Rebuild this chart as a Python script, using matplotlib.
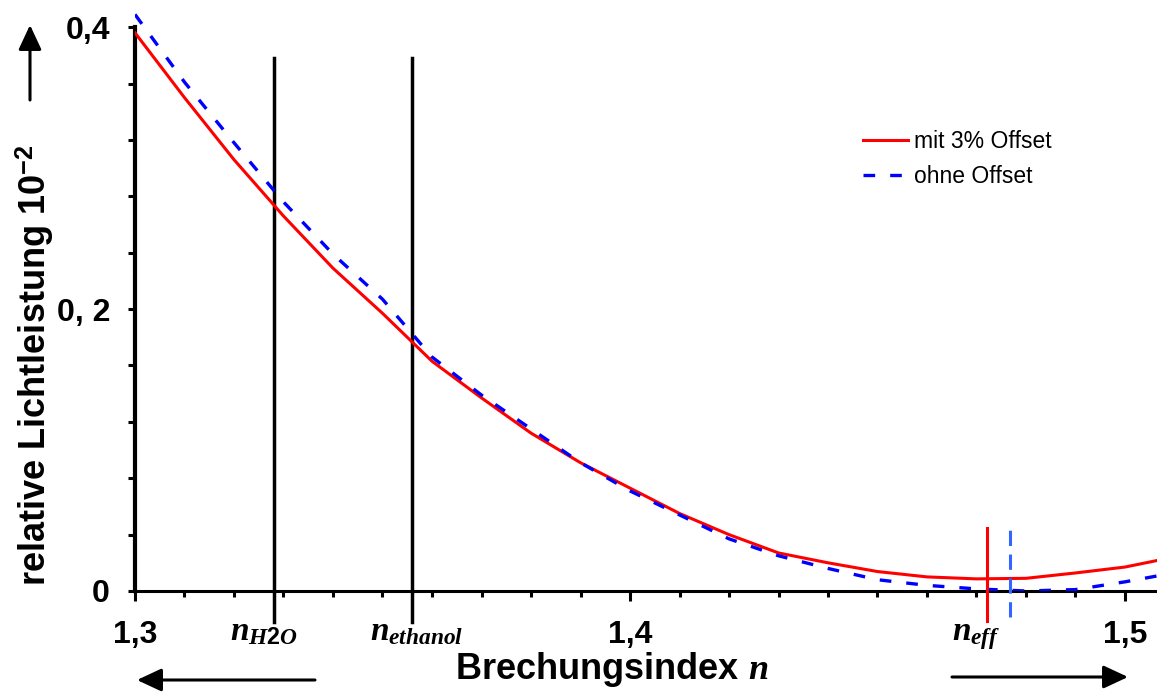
import numpy as np
import matplotlib.pyplot as plt
from matplotlib.ticker import FixedLocator, MultipleLocator

plt.rcParams['font.family'] = 'Liberation Sans'
plt.rcParams['mathtext.fontset'] = 'custom'
plt.rcParams['mathtext.it'] = 'Liberation Serif:italic:bold'
plt.rcParams['mathtext.rm'] = 'Liberation Sans:bold'
plt.rcParams['mathtext.bf'] = 'Liberation Sans:bold'

# Brechungsindex und relative Lichtleistung (in 10^-2)
n = [1.30, 1.31, 1.32, 1.33, 1.34, 1.35, 1.36, 1.37, 1.38, 1.39, 1.40,
     1.41, 1.42, 1.43, 1.44, 1.45, 1.46, 1.47, 1.48, 1.49, 1.50, 1.507]
mit_offset = [0.396, 0.350, 0.306, 0.266, 0.229, 0.197, 0.163, 0.137, 0.112,
              0.091, 0.073, 0.055, 0.040, 0.027, 0.020, 0.0138, 0.010, 0.0086,
              0.009, 0.0128, 0.017, 0.022]
ohne_offset = [0.409, 0.361, 0.318, 0.276, 0.239, 0.207, 0.166, 0.139, 0.115,
               0.091, 0.071, 0.054, 0.037, 0.025, 0.016, 0.008, 0.004, 0.0015,
               0.0, 0.001, 0.0065, 0.011]

n_h2o = 1.328
n_ethanol = 1.356
n_eff_mit = 1.4721
n_eff_ohne = 1.4768

W, H = 1157, 700
fig = plt.figure(figsize=(W / 100, H / 100), dpi=100)
ax = fig.add_axes([135 / W, 109 / H, 1022 / W, 585 / H])

ax.plot(n, mit_offset, color='#ff0000', lw=2.2, label='mit 3% Offset', zorder=3)
ax.plot(n, ohne_offset, color='#0000ff', lw=2.4, ls=(0, (3.5, 4.5)),
        label='ohne Offset', zorder=4)

# Markierungen Wasser / Ethanol
for xv in (n_h2o, n_ethanol):
    ax.plot([xv, xv], [-0.022, 0.378], color='black', lw=2.5, clip_on=False, zorder=2)

# effektiver Brechungsindex
ax.plot([n_eff_mit, n_eff_mit], [-0.0215, 0.0447], color='#ff0000', lw=2.2,
        clip_on=False, zorder=5)
ax.plot([n_eff_ohne, n_eff_ohne], [-0.0185, 0.047], color='#3366ff', lw=2.2,
        ls=(0, (5, 2.8)), clip_on=False, zorder=5)

ax.set_xlim(1.3, 1.3 + 1022 / 4950)
ax.set_ylim(0, 0.415)

for s in ('top', 'right'):
    ax.spines[s].set_visible(False)
ax.spines['left'].set_bounds(0, 0.4)
ax.spines['left'].set_linewidth(3)
ax.spines['bottom'].set_linewidth(2.2)

ax.xaxis.set_major_locator(FixedLocator([1.3, 1.4, 1.5]))
ax.xaxis.set_minor_locator(MultipleLocator(0.01))
ax.set_xticklabels(['1,3', '1,4', '1,5'])
ax.yaxis.set_major_locator(FixedLocator([0, 0.2, 0.4]))
ax.yaxis.set_minor_locator(MultipleLocator(0.04))
ax.set_yticklabels(['0', '0, 2', '0,4'])

ax.tick_params(axis='x', which='major', length=7, width=2.2, pad=14,
               labelsize=23, direction='out')
ax.tick_params(axis='x', which='minor', length=4, width=2.2, direction='out')
ax.tick_params(axis='y', which='both', length=5, width=2.2, pad=13,
               labelsize=23, direction='out')
for lab in ax.get_xticklabels() + ax.get_yticklabels():
    lab.set_fontweight('bold')

# Beschriftung der Linien
ax.text(1.3192, -0.035, r'$n_{\mathit{H2O}}$', fontsize=24, ha='left',
        va='baseline', clip_on=False)
ax.text(1.3475, -0.035, r'$n_{ethanol}$', fontsize=24, ha='left',
        va='baseline', clip_on=False)
ax.text(1.465, -0.035, r'$n_{eff}$', fontsize=24, ha='left',
        va='baseline', clip_on=False)

fig.text(35 / W, 1 - 365 / H, r'relative Lichtleistung 10$^{\mathbf{-2}}$',
         rotation=90, ha='center', va='center', fontsize=26, fontweight='bold')
fig.text(612 / W, 1 - 679 / H, r'Brechungsindex $n$', ha='center',
         va='baseline', fontsize=26, fontweight='bold')

arrow = dict(arrowstyle='-|>,head_length=0.75,head_width=0.35', color='black',
             lw=2.2, mutation_scale=20, shrinkA=0, shrinkB=0)
ax.annotate('', xy=(30, H - 25), xytext=(30, H - 100),
            xycoords='figure pixels', textcoords='figure pixels', arrowprops=arrow)
ax.annotate('', xy=(137, H - 680), xytext=(315, H - 680),
            xycoords='figure pixels', textcoords='figure pixels', arrowprops=arrow)
ax.annotate('', xy=(1128, H - 677), xytext=(952, H - 677),
            xycoords='figure pixels', textcoords='figure pixels', arrowprops=arrow)

ax.legend(loc='upper left', bbox_to_anchor=(852 / W, 1 - 119 / H),
          bbox_transform=fig.transFigure, frameon=False, fontsize=16.5,
          handlelength=1.95, handletextpad=0.25, labelspacing=0.5, borderpad=0)

fig.savefig('out.png', dpi=100)
